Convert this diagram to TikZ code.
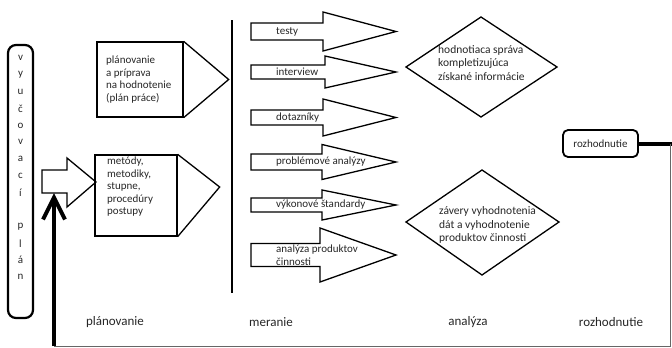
\documentclass[tikz,border=0pt]{standalone}
\usepackage{fontspec}
\setmainfont{Carlito}
\usetikzlibrary{arrows.meta}

\begin{document}
\begin{tikzpicture}[x = 1pt, y = -1pt,
	obrys/.style = {line width = 1.3pt},
	pismo/.style = {font = \fontsize{11}{12.5}\selectfont, text = black!85, inner sep = 0pt, align = left},
	popis/.style = {font = \fontsize{13}{15}\selectfont, text = black!85},
	hrubo/.style = {line width = 4pt},
	tenko/.style = {line width = 0.9pt, black!60}]
	\useasboundingbox (0,0) rectangle (672,348);

	\node [draw, line width = 2.2pt, rounded corners = 8pt, minimum width = 25, minimum height = 273] (vplan) at (20.5,181.5) {};
	\foreach \ch/\k in {v/0,y/1,u/2,č/3,o/4,v/5,a/6,c/7,í/8,p/10,l/11,á/12,n/13}{
			\node [pismo] (pismeno\k) at (20.5,58+16.85*\k) {\ch};
		}

	\draw [obrys, fill = white] (42,170) -- (67,170) -- (67,158) -- (96,182) -- (67,207) -- (67,193) -- (42,193) -- cycle;
	\coordinate (vstup) at (54,193);

	\node [draw, obrys, minimum width = 86, minimum height = 75] (plan) at (140,79.5) {};
	\node [pismo, anchor = north west] (plantext) at (106,56) {plánovanie\\a príprava\\na hodnotenie\\(plán práce)};
	\draw [obrys] (plan.north east) -- ([xshift = 45pt]plan.east) -- (plan.south east);

	\node [draw, obrys, minimum width = 82, minimum height = 81] (metody) at (136,195.5) {};
	\node [pismo, anchor = north west] (metodytext) at (107,157) {metódy,\\metodiky,\\stupne,\\procedúry\\postupy};
	\draw [obrys] (metody.north east) -- ([xshift = 42pt, yshift = 8.5pt]metody.east) -- (metody.south east);

	\draw [line width = 2pt] (232,20) -- (232,293);

	\foreach \y/\tb/\hh/\hx/\lab [count = \i] in {31.5/8.5/19.5/323/testy, 72/7/16/325/interview, 117.5/7.5/18.5/323/dotazníky, 162/8/17.5/322/problémové analýzy, 205/7/15/322/výkonové štandardy, 255/11.5/27/320/{analýza produktov\\činnosti}}{
			\draw [obrys] (251,\y-\tb) -- (\hx,\y-\tb) -- (\hx,\y-\hh) -- (396,\y) -- (\hx,\y+\hh) -- (\hx,\y+\tb) -- (251,\y+\tb) -- cycle;
			\node [pismo, anchor = west] (meranie\i) at (276,\y) {\lab};
		}

	\draw [obrys] (406,67) -- (481,17) -- (557,67) -- (481,117) -- cycle;
	\node [pismo, font = \fontsize{11.5}{13.5}\selectfont, anchor = west] (sprava) at (438,63) {hodnotiaca správa\\kompletizujúca\\získané informácie};
	\draw [obrys] (406,222) -- (482,170) -- (559,222) -- (482,275) -- cycle;
	\node [pismo, font = \fontsize{11.5}{13.5}\selectfont, anchor = west] (zavery) at (439,225) {závery vyhodnotenia\\dát a vyhodnotenie\\produktov činnosti};

	\node [draw, line width = 1.8pt, rounded corners = 5pt, minimum width = 75, minimum height = 27, font = \fontsize{11}{13}\selectfont, text = black!85] (rozh) at (600.5,143.5) {rozhodnutie};
	\coordinate (roh) at (670,143.5);
	\coordinate (dno) at (54,346);
	\draw [hrubo] (rozh.east) -- (672,143.5);
	\draw [tenko] (roh) |- (dno);
	\draw [hrubo, -{Straight Barb[length = 22pt, width = 22pt]}] (dno) -- (vstup);

	\foreach \x/\lab [count = \i] in {115/plánovanie, 271/meranie, 468/analýza, 611/rozhodnutie}{
			\node [popis] (faza\i) at (\x,322) {\lab};
		}
\end{tikzpicture}
\end{document}
